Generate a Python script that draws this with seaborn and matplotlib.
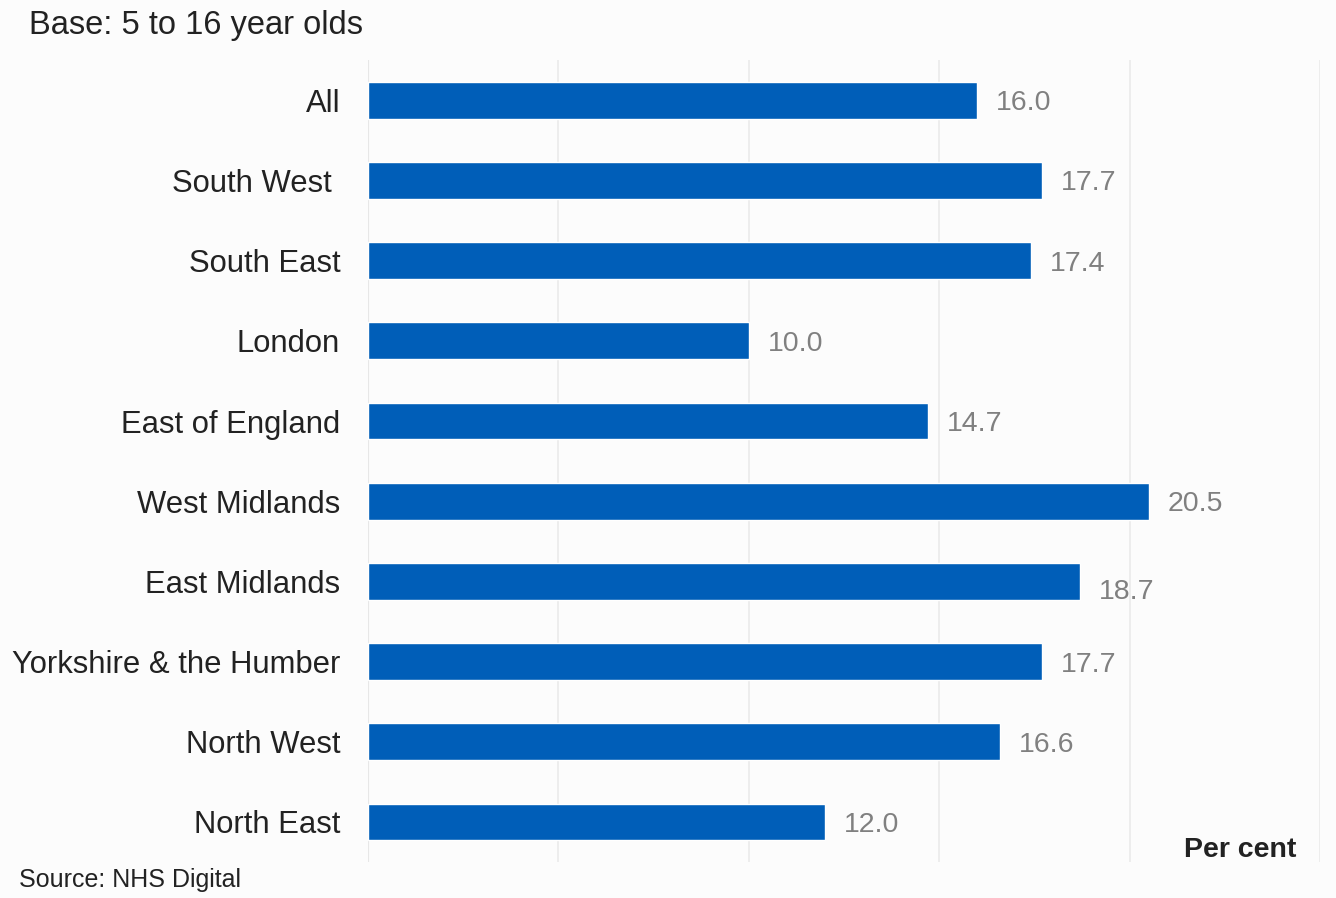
import matplotlib
matplotlib.use("Agg")
import matplotlib.pyplot as plt
import seaborn as sns
import pandas as pd

regions = ["All", "South West ", "South East", "London", "East of England",
           "West Midlands", "East Midlands", "Yorkshire & the Humber",
           "North West", "North East"]
percent = [16.0, 17.7, 17.4, 10.0, 14.7, 20.5, 18.7, 17.7, 16.6, 12.0]
label_dy = [0, 0, 0, 0, 0, 0, 0.1, 0, 0, 0]

df = pd.DataFrame({"region": regions, "percent": percent})

sns.set_theme(style="white")
plt.rcParams["font.family"] = ["Liberation Sans", "DejaVu Sans"]

bg = "#fcfcfc"
fig = plt.figure(figsize=(13.36, 8.98), dpi=100, facecolor=bg)
ax = fig.add_axes([0.2754, 0.040, 0.7126, 0.893])
ax.set_facecolor(bg)

sns.barplot(data=df, x="percent", y="region", orient="h", color="#005EB8",
            width=0.46, saturation=1, ax=ax)

ax.set_xlim(0, 25)
ax.set_ylim(9.5, -0.5)
ax.set_xticks([0, 5, 10, 15, 20, 25])
ax.xaxis.grid(True, color="#ebebeb", linewidth=1.2)
ax.set_axisbelow(True)
ax.axvline(0, color="#d9d9d9", linewidth=1.5, zorder=0.5)
for s in ax.spines.values():
    s.set_visible(False)
ax.tick_params(axis="x", length=0, labelbottom=False)
ax.tick_params(axis="y", length=0, pad=20, labelsize=22.3, labelcolor="#222222")
ax.set_xlabel("")
ax.set_ylabel("")

for i, v in enumerate(percent):
    ax.text(v + 0.5, i + label_dy[i], f"{v:.1f}", va="center_baseline",
            ha="left", fontsize=20.5, color="#808080")

fig.text(0.022, 0.972, "Base: 5 to 16 year olds", fontsize=23.5,
         color="#222222", va="center", ha="left")
fig.text(0.970, 0.053, "Per cent", fontsize=20.5, fontweight="bold",
         color="#222222", va="center", ha="right")
fig.text(0.014, 0.020, "Source: NHS Digital", fontsize=18,
         color="#222222", va="center", ha="left")

fig.savefig("out.png", dpi=100, facecolor=bg)
